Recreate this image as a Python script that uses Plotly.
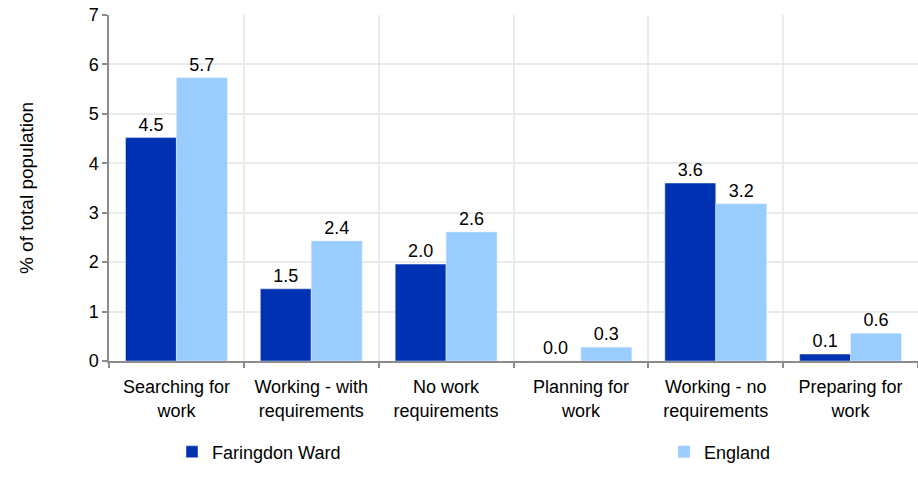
import plotly.graph_objects as go

categories = ["Searching for<br>work", "Working - with<br>requirements", "No work<br>requirements",
              "Planning for<br>work", "Working - no<br>requirements", "Preparing for<br>work"]
faringdon = [4.52, 1.46, 1.96, 0.0, 3.60, 0.14]
england = [5.73, 2.43, 2.61, 0.28, 3.18, 0.56]
series_names = ["Faringdon Ward", "England"]
y_ticks = [0, 1, 2, 3, 4, 5, 6, 7]

FONT = "Liberation Sans, Arial, sans-serif"
FS = 18

fig = go.Figure()
fig.add_trace(go.Bar(x=categories, y=faringdon, name=series_names[0], marker_color="#0031b2",
                     text=[f"{v:.1f}" for v in faringdon], textposition="outside",
                     textfont=dict(color="#000000", size=FS), cliponaxis=False,
                     legend="legend"))
fig.add_trace(go.Bar(x=categories, y=england, name=series_names[1], marker_color="#99ccff",
                     text=[f"{v:.1f}" for v in england], textposition="outside",
                     textfont=dict(color="#000000", size=FS), cliponaxis=False,
                     legend="legend2"))

legend_common = dict(orientation="h", xref="container", yref="container",
                     y=1 - 452 / 491, xanchor="left", yanchor="middle",
                     font=dict(size=FS, family=FONT), bgcolor="rgba(0,0,0,0)")

fig.update_layout(
    width=918, height=491,
    margin=dict(l=109, r=0, t=15, b=130),
    paper_bgcolor="white", plot_bgcolor="white",
    font=dict(family=FONT, size=FS, color="#000000"),
    barmode="group", bargap=0.245, bargroupgap=0,
    showlegend=True,
    legend=dict(x=172 / 918, **legend_common),
    legend2=dict(x=664 / 918, **legend_common),
    xaxis=dict(showline=True, linecolor="#8c8c8c", linewidth=1.5,
               ticks="outside", ticklen=5, tickcolor="#8c8c8c", tickwidth=1.5,
               tickson="boundaries", showgrid=True, gridcolor="#ebebeb", gridwidth=1.5,
               ticklabelstandoff=9, tickfont=dict(size=FS)),
    yaxis=dict(range=[0, 7], tickvals=y_ticks, showline=True, linecolor="#8c8c8c", linewidth=1.5,
               ticks="outside", ticklen=5, tickcolor="#8c8c8c", tickwidth=1.5,
               showgrid=True, gridcolor="#ebebeb", gridwidth=1.5, zeroline=False,
               title=dict(text="% of total population", font=dict(size=19), standoff=50),
               tickfont=dict(size=FS)),
)
fig.write_html("out.html", config={"displayModeBar": False},
               post_script="document.body.style.margin='0';")
